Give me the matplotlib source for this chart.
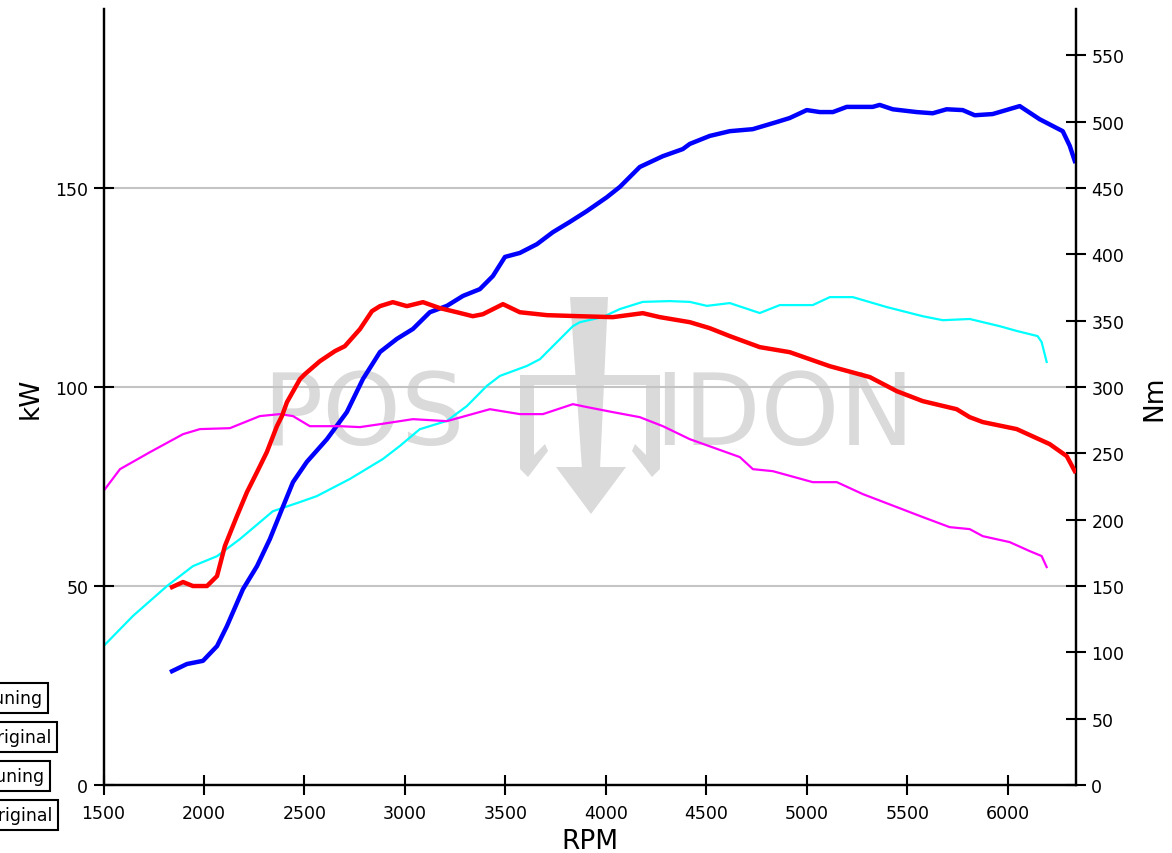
import matplotlib
matplotlib.use("Agg")
import matplotlib.pyplot as plt
from matplotlib.patches import Polygon

# ---------------- data ----------------
# Power tuning (kW) - blue
pt_rpm = [1841, 1915, 1995, 2065, 2114, 2194, 2264, 2328, 2388, 2443, 2512, 2612, 2711, 2791,
          2876, 2960, 3040, 3124, 3209, 3289, 3373, 3438, 3498, 3572, 3657, 3736, 3821, 3905,
          4005, 4070, 4169, 4283, 4383, 4418, 4517, 4617, 4731, 4851, 4915, 5000, 5065, 5130,
          5199, 5328, 5363, 5428, 5547, 5627, 5696, 5776, 5836, 5925, 6060, 6159, 6274, 6309, 6334]
pt_kw = [28.6, 30.4, 31.2, 34.9, 39.9, 49.2, 55.0, 61.8, 69.3, 76.1, 81.2, 86.9, 93.7, 102.0,
         108.8, 112.1, 114.6, 118.8, 120.4, 122.9, 124.6, 127.9, 132.7, 133.7, 135.9, 138.9, 141.5, 144.2,
         147.7, 150.3, 155.3, 158.0, 159.8, 161.1, 163.1, 164.3, 164.8, 166.6, 167.6, 169.6, 169.1, 169.1,
         170.4, 170.4, 170.9, 169.8, 169.1, 168.8, 169.8, 169.6, 168.3, 168.6, 170.6, 167.3, 164.3, 160.6, 156.8]

# Power original (kW) - cyan
po_rpm = [1500, 1647, 1816, 1945, 2065, 2179, 2343, 2478, 2562, 2726, 2890, 2975, 3074, 3209,
          3308, 3408, 3473, 3607, 3672, 3836, 3871, 3985, 4070, 4184, 4318, 4418, 4503, 4617,
          4766, 4866, 5030, 5115, 5229, 5398, 5577, 5677, 5811, 5960, 6045, 6149, 6169, 6194]
po_kw = [34.9, 42.5, 50.0, 55.0, 57.5, 61.8, 68.8, 71.1, 72.6, 76.9, 81.9, 85.2, 89.4, 91.5,
         95.2, 100.3, 102.8, 105.3, 107.0, 115.3, 116.3, 117.6, 119.6, 121.4, 121.6, 121.4, 120.4, 121.1,
         118.6, 120.6, 120.6, 122.6, 122.6, 120.1, 117.8, 116.8, 117.1, 115.3, 114.1, 112.8, 111.3, 106.3]

# Torque tuning (Nm) - red
tt_rpm = [1841, 1896, 1945, 2015, 2065, 2104, 2164, 2214, 2264, 2313, 2363, 2388, 2413, 2478,
          2502, 2577, 2652, 2701, 2776, 2836, 2876, 2940, 3010, 3090, 3174, 3259, 3338, 3388,
          3488, 3572, 3707, 3871, 4035, 4184, 4269, 4418, 4517, 4617, 4766, 4915, 5115, 5314,
          5448, 5577, 5746, 5811, 5876, 6045, 6209, 6294, 6334]
tt_nm = [149.2, 153.0, 150.0, 150.0, 157.5, 180.1, 202.7, 220.8, 235.9, 251.0, 270.5, 278.1, 288.6, 306.0,
         309.7, 319.5, 327.1, 330.8, 343.6, 357.2, 361.0, 364.0, 361.0, 364.0, 359.5, 356.4, 353.4, 354.9,
         362.5, 356.4, 354.2, 353.4, 352.7, 355.7, 352.7, 348.9, 344.4, 338.4, 330.1, 326.3, 315.7, 307.5,
         296.9, 289.4, 283.3, 277.3, 273.6, 268.3, 257.0, 247.9, 236.6]

# Torque original (Nm) - magenta
to_rpm = [1500, 1582, 1731, 1896, 1980, 2129, 2278, 2378, 2443, 2527, 2677, 2776, 2876, 3040,
          3209, 3423, 3572, 3687, 3836, 3906, 4035, 4169, 4284, 4418, 4667, 4732, 4831, 5030,
          5150, 5279, 5448, 5577, 5711, 5811, 5876, 6010, 6110, 6169, 6194]
to_nm = [221.6, 238.1, 250.9, 264.5, 268.3, 269.0, 278.1, 279.6, 278.1, 270.5, 270.5, 269.8, 272.0, 275.8,
         274.3, 283.3, 279.6, 279.6, 287.1, 284.9, 281.1, 277.3, 270.5, 260.7, 247.2, 238.1, 236.6, 228.3,
         228.3, 219.3, 209.5, 202.0, 194.4, 192.9, 187.6, 183.1, 176.3, 172.6, 164.3]

x_ticks = [1500, 2000, 2500, 3000, 3500, 4000, 4500, 5000, 5500, 6000]
kw_ticks = [0, 50, 100, 150]
nm_ticks = [0, 50, 100, 150, 200, 250, 300, 350, 400, 450, 500, 550]
legend_labels = ["Tuning", "Original", "Tuning", "Original"]

# ---------------- figure ----------------
W, H = 1172, 854
fig = plt.figure(figsize=(W / 100, H / 100), dpi=100)
L, R, B, T = 103.5 / W, 1076 / W, 1 - 786 / H, 1 - 10 / H
ax = fig.add_axes([L, B, R - L, T - B])
ax2 = ax.twinx()

ax.set_xlim(1500, 6340)
ax.set_ylim(0, 195)
ax2.set_ylim(0, 585)

# watermark (axes-fraction coordinates)
wm = '#dadada'
def px(xp, yp):
    return ((xp - 103.5) / 972.5, (786 - yp) / 776)

ax.text(*px(262, 418), "POS", transform=ax.transAxes, fontsize=72, color=wm,
        ha='left', va='center', zorder=0.3, fontfamily='DejaVu Sans')
ax.text(*px(915, 418), "IDON", transform=ax.transAxes, fontsize=72, color=wm,
        ha='right', va='center', zorder=0.3, fontfamily='DejaVu Sans')
shapes = [
    [(570, 298), (608, 298), (600, 470), (582, 470)],                     # shaft
    [(522, 376), (658, 376), (658, 386), (522, 386)],                     # crossbar
    [(520, 376), (534, 376), (534, 462), (520, 470)],                     # left prong
    [(646, 376), (660, 376), (660, 470), (646, 462)],                     # right prong
    [(520, 470), (545, 445), (548, 452), (528, 478)],                     # left hook
    [(660, 470), (635, 445), (632, 452), (652, 478)],                     # right hook
    [(556, 468), (626, 468), (591, 515)],                                 # arrow head
]
for s in shapes:
    ax.add_patch(Polygon([px(a, b) for a, b in s], closed=True, transform=ax.transAxes,
                         facecolor=wm, edgecolor='none', zorder=0.3))

# grid
for g in [50, 100, 150]:
    ax.axhline(g, color='#c4c4c4', lw=1.5, zorder=0.5)

ax.plot(po_rpm, po_kw, color='#00ffff', lw=1.6, zorder=2)
ax.plot(pt_rpm, pt_kw, color='#0000ff', lw=3.2, zorder=3)
ax2.plot(to_rpm, to_nm, color='#ff00ff', lw=1.6, zorder=2)
ax2.plot(tt_rpm, tt_nm, color='#ff0000', lw=3.2, zorder=3)

for a in (ax, ax2):
    a.spines['top'].set_visible(False)
    for sp in ('left', 'right', 'bottom'):
        a.spines[sp].set_linewidth(1.6)
        a.spines[sp].set_color('black')
    a.patch.set_visible(False)

ax.set_xticks(x_ticks)
ax.set_yticks(kw_ticks)
ax2.set_yticks(nm_ticks)
ax.tick_params(axis='both', direction='inout', length=14, width=1.5, labelsize=12.5, pad=4)
ax2.tick_params(axis='y', direction='inout', length=14, width=1.5, labelsize=12.5, pad=4)
ax.tick_params(axis='x', pad=7)

ax.set_xlabel("RPM", fontsize=19, labelpad=4)
ax.set_ylabel("kW", fontsize=19, labelpad=8)
ax2.set_ylabel("Nm", fontsize=19, labelpad=12)

# legend boxes (clipped at the figure's left edge, as in the reference)
box_right = [42, 51, 44, 52]
box_y = [699, 738, 777, 816]
for lab, xr, yc in zip(legend_labels, box_right, box_y):
    fig.text(xr / W, 1 - yc / H, lab, ha='right', va='center', fontsize=12.5,
             bbox=dict(boxstyle='square,pad=0.35', facecolor='white', edgecolor='black', lw=1.5))

fig.savefig("out.png", dpi=100)
